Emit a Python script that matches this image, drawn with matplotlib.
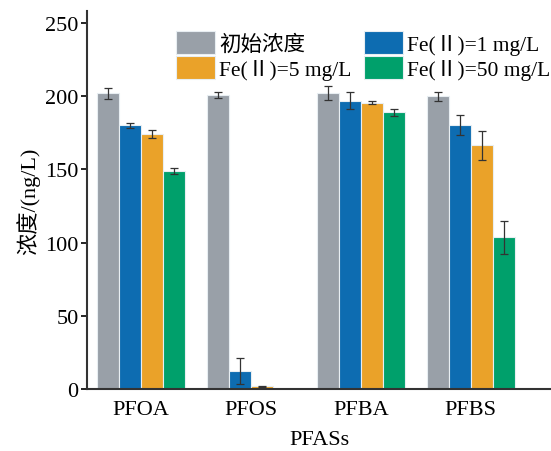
import numpy as np
import matplotlib
matplotlib.use('Agg')
from matplotlib import pyplot as plt

plt.rcParams['font.family'] = ['Liberation Serif', 'Noto Sans CJK SC']
plt.rcParams['axes.unicode_minus'] = False
font_size = 16

compounds = ['PFOA', 'PFOS', 'PFBA', 'PFBS']
labels = ['初始浓度', 'Fe(Ⅱ)=1 mg/L', 'Fe(Ⅱ)=5 mg/L', 'Fe(Ⅱ)=50 mg/L']
initial = [202, 201, 202, 200]
initial_err = [3.7, 2, 4.8, 3]
fe1 = [180, 12.3, 197, 180]
fe1_err = [2, 9, 5.5, 6.8]
fe5 = [174, 1.8, 195.5, 166.5]
fe5_err = [2.8, 0.4, 1, 10]
fe50 = [148.8, 0, 189, 103.5]
fe50_err = [2, 0, 2.5, 11]

color = ['#99a0a8', '#0d6cb1', '#eaa229', '#00a06b']

fig = plt.figure(figsize=(5.51, 4.52), dpi=100)
ax = fig.add_axes([0.158, 0.137, 0.842, 0.836])
x = np.arange(len(compounds))
width = 0.2
series = [(initial, initial_err), (fe1, fe1_err), (fe5, fe5_err), (fe50, fe50_err)]
bars = []
for i, (vals, errs) in enumerate(series):
    b = ax.bar(x + (i - 1.5) * width, vals, width, color=color[i], edgecolor='#e8eef2',
               linewidth=0.8, label=labels[i], zorder=2)
    shown = [k for k in range(len(vals)) if vals[k] > 0]
    ax.errorbar(x[shown] + (i - 1.5) * width, np.array(vals)[shown], yerr=np.array(errs)[shown],
                fmt='none', ecolor='#333333', elinewidth=0.9, capsize=3, capthick=0.9, zorder=3)
    bars.append(b)

ax.set_xlim(-0.49, 3.73)
ax.set_ylim(0, 258)
ax.set_yticks([0, 50, 100, 150, 200, 250])
ax.set_xticks(x)
ax.set_xticklabels(compounds)
ax.tick_params(axis='x', length=0, labelsize=font_size, pad=8)
ax.tick_params(axis='y', direction='out', length=4, width=1.2, labelsize=font_size, pad=2)
for s in ['top', 'right']:
    ax.spines[s].set_visible(False)
for s in ['left', 'bottom']:
    ax.spines[s].set_linewidth(1.5)
    ax.spines[s].set_color('#333333')

ax.set_ylabel('浓度/(ng/L)', fontsize=font_size, labelpad=4)
ax.set_xlabel('PFASs', fontsize=font_size, labelpad=8)

order = [0, 2, 1, 3]
ax.legend([bars[k] for k in order], [labels[k] for k in order], ncol=2,
          loc='upper left', bbox_to_anchor=(0.15, 1.0), fontsize=15.5, frameon=False,
          handlelength=1.8, handleheight=1.3, columnspacing=0.6, handletextpad=0.2,
          labelspacing=0.05, borderaxespad=0.5)

plt.savefig('out.png', dpi=100)
